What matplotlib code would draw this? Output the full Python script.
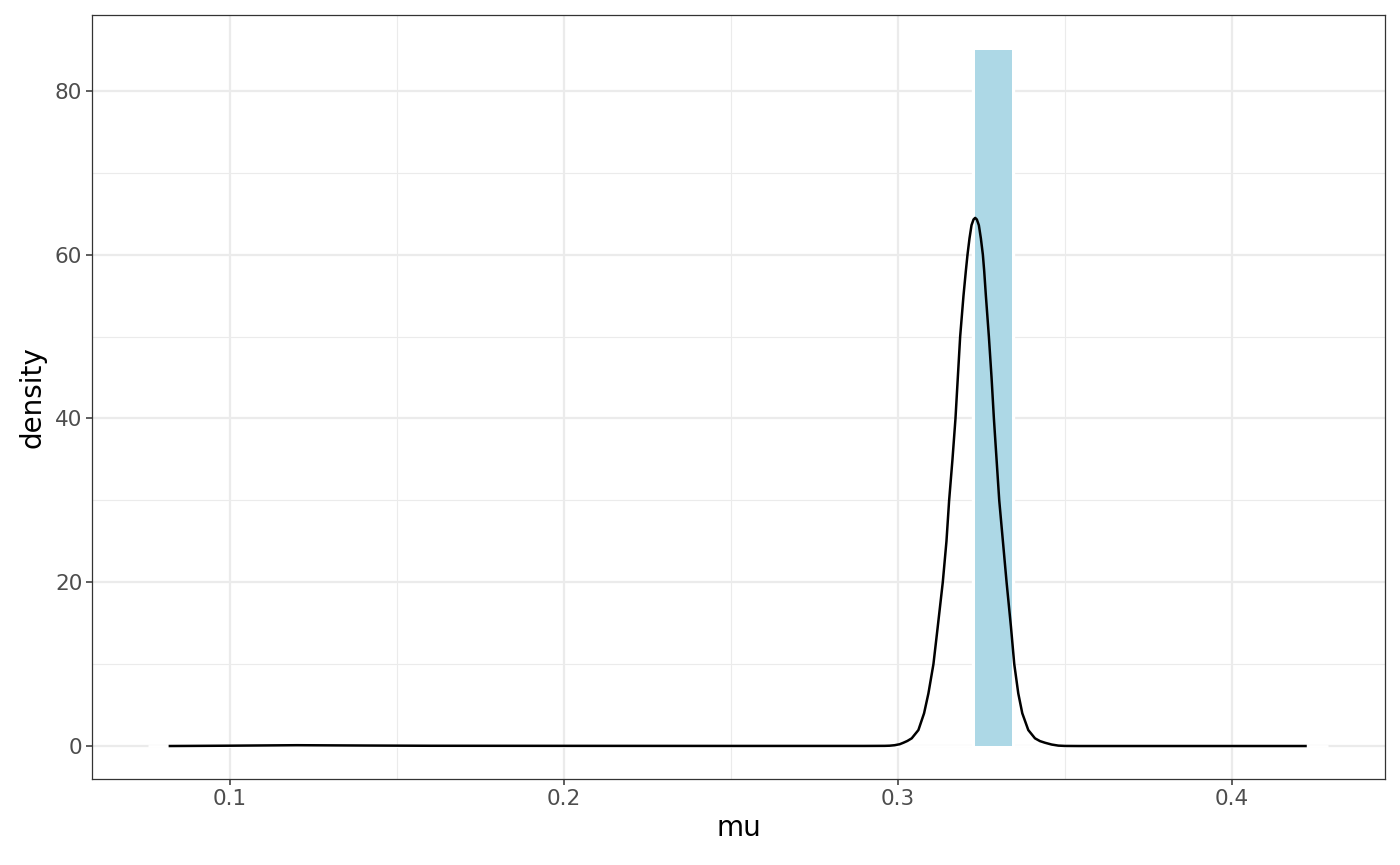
import numpy as np
import matplotlib
matplotlib.use('Agg')
import matplotlib.pyplot as plt
from matplotlib.ticker import MultipleLocator

# posterior density of mu
mu = [0.082, 0.100, 0.120, 0.140, 0.160, 0.200, 0.250, 0.290, 0.2960, 0.2975,
      0.2990, 0.3005, 0.3016, 0.3028, 0.3041, 0.3061, 0.3078, 0.3091, 0.3106,
      0.3119, 0.3134, 0.3145, 0.3153, 0.3163, 0.3172, 0.3179, 0.3186, 0.3196,
      0.3203, 0.3208, 0.3214, 0.3220, 0.3226, 0.3231, 0.3236, 0.3242, 0.3248,
      0.3254, 0.3258, 0.3263, 0.3272, 0.3280, 0.3287, 0.3295, 0.3303, 0.3314,
      0.3325, 0.3338, 0.3348, 0.3360, 0.3372, 0.3390, 0.3410, 0.3425, 0.3440,
      0.3460, 0.3480, 0.3500, 0.3540, 0.380, 0.422]
dens = [0.0, 0.04, 0.10, 0.06, 0.03, 0.02, 0.01, 0.01, 0.02, 0.04,
        0.10, 0.22, 0.40, 0.62, 0.94, 1.95, 4.0, 6.43, 10.0,
        14.6, 20.0, 25.0, 30.0, 35.0, 40.0, 45.0, 50.0, 55.0,
        58.0, 60.0, 62.0, 63.6, 64.3, 64.5, 64.3, 63.6, 62.0,
        60.0, 58.0, 55.0, 50.0, 45.0, 40.0, 35.0, 30.0, 25.0,
        20.0, 14.6, 10.0, 6.43, 4.0, 1.95, 0.94, 0.60, 0.40,
        0.18, 0.05, 0.01, 0.0, 0.0, 0.0]

# interval bar
bar_lo, bar_hi = 0.3231, 0.3340
bar_top = 85
# extent of the white backing line along y = 0
base_lo, base_hi = 0.0754, 0.4287

fig = plt.figure(figsize=(14, 8.65), dpi=100)
ax = fig.add_axes([0.0657, 0.0994, 0.9236, 0.8833])

grid_col = '#EBEBEB'
ax.set_xlim(0.05868, 0.4458)
ax.set_ylim(-4.03, 89.28)
ax.xaxis.set_major_locator(MultipleLocator(0.1))
ax.xaxis.set_minor_locator(MultipleLocator(0.05))
ax.yaxis.set_major_locator(MultipleLocator(20))
ax.yaxis.set_minor_locator(MultipleLocator(10))
ax.grid(which='major', color=grid_col, linewidth=1.6, zorder=0)
ax.grid(which='minor', color=grid_col, linewidth=0.8, zorder=0)
ax.set_axisbelow(True)

ax.plot([base_lo, base_hi], [0, 0], color='white', linewidth=2.0, zorder=1,
        solid_capstyle='butt')

ax.bar([(bar_lo + bar_hi) / 2], [bar_top], width=bar_hi - bar_lo,
       color='#ADD8E6', edgecolor='white', linewidth=4.6, zorder=2)
ax.bar([(bar_lo + bar_hi) / 2], [bar_top], width=bar_hi - bar_lo,
       color='#ADD8E6', linewidth=0, zorder=3)

ax.plot(mu, dens, color='black', linewidth=1.8, zorder=4,
        solid_joinstyle='round')

ax.set_xticks([0.1, 0.2, 0.3, 0.4])
ax.set_xticklabels(['0.1', '0.2', '0.3', '0.4'])
ax.set_yticks([0, 20, 40, 60, 80])
ax.tick_params(which='major', length=4, width=1.1, color='#333333',
               labelcolor='#4D4D4D', labelsize=15.5, pad=3)
ax.tick_params(which='minor', length=0)
for s in ax.spines.values():
    s.set_color('#333333')
    s.set_linewidth(0.9)

ax.set_xlabel('mu', fontsize=20, labelpad=4)
ax.set_ylabel('density', fontsize=20, labelpad=6)

fig.savefig('out.png', dpi=100)
